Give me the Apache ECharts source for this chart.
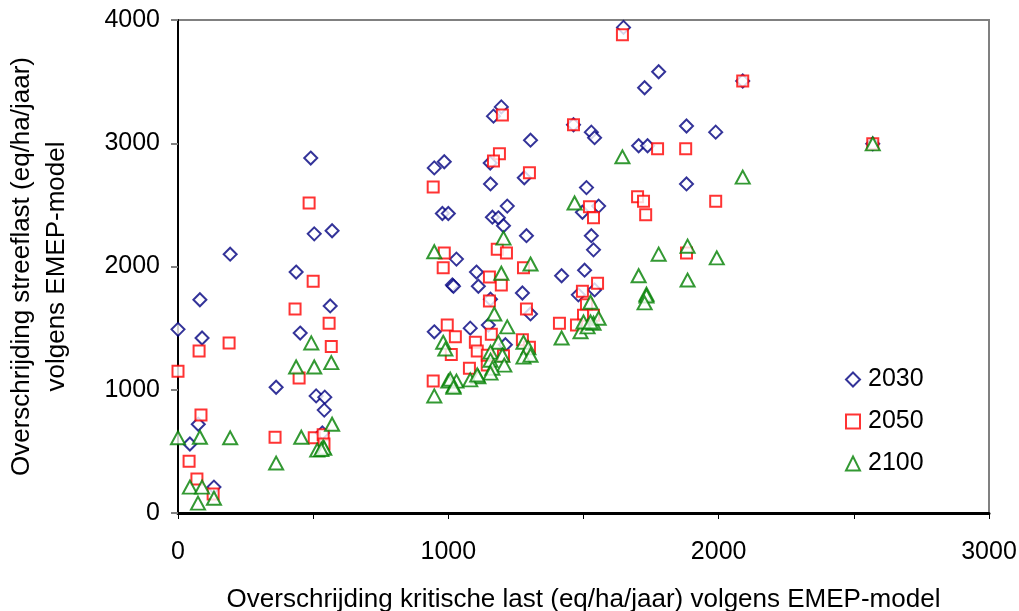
<!DOCTYPE html>
<html>
<head>
<meta charset="utf-8">
<script src="https://cdn.jsdelivr.net/npm/echarts@6/dist/echarts.min.js"></script>
<style>
html,body{margin:0;padding:0;background:#fff;}
#chart{width:1019px;height:611px;}
</style>
</head>
<body>
<div id="chart"></div>
<script>
var seriesNames = ['2030', '2050', '2100'];
var xTickLabels = ['0', '1000', '2000', '3000'];
var yTickLabels = ['0', '1000', '2000', '3000', '4000'];

var data2030 = [
 [0,1490],[44,560],[81,1730],[89,1420],[75,720],[133,210],[193,2100],[437,1955],
 [563,1680],[452,1460],[363,1020],[511,950],[543,940],[541,835],[534,650],[491,2880],
 [504,2265],[570,2290],[948,2800],[985,2850],[978,2430],[1000,2430],[1030,2060],[1015,1850],
 [948,1470],[1196,3295],[1167,3220],[1648,3940],[1778,3580],[1726,3450],[1463,3150],[1529,3090],
 [1541,3045],[1881,3140],[1989,3090],[1304,3025],[1704,2980],[1737,2980],[1155,2840],[1281,2720],
 [1156,2670],[1511,2640],[1881,2670],[1556,2490],[1496,2440],[1218,2490],[1163,2400],[1185,2395],
 [1204,2330],[1289,2250],[1529,2250],[1537,2135],[1104,1955],[1019,1840],[1111,1840],[1274,1785],
 [1419,1925],[1504,1970],[1541,1810],[1481,1770],[1156,1735],[1304,1615],[1081,1500],[1148,1525],
 [1211,1365],[2089,3505],[2570,2995]
];
var data2050 = [
 [0,1150],[78,1315],[189,1380],[85,795],[41,420],[70,275],[130,155],[500,1880],
 [433,1655],[559,1540],[567,1350],[448,1095],[359,615],[504,610],[537,635],[540,560],[485,2515],
 [944,2645],[944,1070],[985,2110],[981,1990],[996,1525],[1026,1430],[1011,1285],[1200,3230],
 [1644,3880],[1463,3150],[1774,2955],[1878,2955],[1189,2915],[1167,2855],[1300,2760],[1700,2565],
 [1722,2530],[1730,2420],[1989,2530],[1522,2485],[1537,2395],[1181,2140],[1215,2110],[1881,2110],
 [1278,1990],[1152,1915],[1196,1850],[1552,1865],[1496,1800],[1152,1720],[1289,1655],[1159,1450],
 [1100,1385],[1107,1315],[1078,1175],[1144,1200],[1144,1280],[1204,1275],[1274,1405],[1300,1345],
 [1411,1540],[1511,1690],[1500,1605],[1537,1605],[1474,1525],[2089,3505],[2570,2995]
];
var data2100 = [
 [0,610],[81,615],[193,610],[44,210],[89,210],[74,80],[133,120],[363,405],
 [456,615],[493,1380],[437,1185],[504,1185],[567,1220],[570,720],[515,510],[537,535],
 [541,525],[530,515],[948,2120],[981,1385],[989,1330],[1000,1070],[1019,1030],[1030,1070],
 [948,950],[1644,2890],[1467,2515],[1204,2230],[1778,2100],[1885,2165],[1993,2070],[1304,2020],
 [1196,1945],[1704,1925],[1885,1890],[1733,1775],[1733,1760],[1726,1705],[1170,1615],[1218,1510],
 [1185,1385],[1156,1305],[1156,1240],[1200,1280],[1207,1200],[1163,1175],[1156,1135],[1111,1105],
 [1081,1080],[1007,1085],[1019,1020],[1107,1120],[1278,1385],[1296,1340],[1278,1265],[1304,1280],
 [1419,1420],[1526,1710],[1489,1470],[1515,1510],[1537,1540],[1556,1580],[1500,1550],[1526,1550],
 [2089,2725],[2570,2995]
];

var FONT = '"Liberation Sans", Arial, sans-serif';
var chart = echarts.init(document.getElementById('chart'), null, {renderer: 'canvas'});
chart.setOption({
  animation: false,
  backgroundColor: '#ffffff',
  textStyle: {fontFamily: FONT},
  grid: {left: 178, top: 20, right: 30, bottom: 98, outerBoundsMode: 'none', containLabel: false,
         show: true, borderColor: '#808080', borderWidth: 2, backgroundColor: '#fff'},
  legend: {
    orient: 'vertical',
    left: 840, top: 362,
    itemGap: 17,
    itemWidth: 14, itemHeight: 14,
    textStyle: {fontFamily: FONT, fontSize: 25, color: '#000', padding: [0, 0, 0, 3]},
    data: seriesNames
  },
  xAxis: {
    type: 'value', min: 0, max: 3000, interval: 500,
    name: 'Overschrijding kritische last (eq/ha/jaar) volgens EMEP-model',
    nameLocation: 'middle', nameGap: 74,
    nameTextStyle: {fontFamily: FONT, fontSize: 26, color: '#000'},
    axisLine: {show: true, onZero: false, lineStyle: {color: '#000', width: 3}},
    axisTick: {show: true, length: 6, lineStyle: {color: '#000', width: 1}},
    axisLabel: {
      fontFamily: FONT, fontSize: 25, color: '#000', margin: 27,
      formatter: function (v) { return v % 1000 === 0 ? xTickLabels[v / 1000] : ''; }
    },
    splitLine: {show: false}
  },
  yAxis: {
    type: 'value', min: 0, max: 4000, interval: 1000,
    name: 'Overschrijding streeflast (eq/ha/jaar)\nvolgens EMEP-model',
    nameLocation: 'middle', nameGap: 104, nameRotate: 90,
    nameTextStyle: {fontFamily: FONT, fontSize: 26, color: '#000', lineHeight: 35},
    axisLine: {show: true, onZero: false, lineStyle: {color: '#000', width: 2}},
    axisTick: {show: true, length: 7, lineStyle: {color: '#808080', width: 2}},
    axisLabel: {
      fontFamily: FONT, fontSize: 25, color: '#000', margin: 18,
      formatter: function (v) { return yTickLabels[v / 1000]; }
    },
    splitLine: {show: false}
  },
  series: [
    {name: seriesNames[0], type: 'scatter', data: data2030, symbol: 'emptyDiamond', symbolSize: 13,
     itemStyle: {color: '#000080', borderColor: '#000080', borderWidth: 2}},
    {name: seriesNames[1], type: 'scatter', data: data2050, symbol: 'emptyRect', symbolSize: 11,
     itemStyle: {color: '#ff0000', borderColor: '#ff0000', borderWidth: 2}},
    {name: seriesNames[2], type: 'scatter', data: data2100, symbol: 'emptyTriangle', symbolSize: [14, 13],
     itemStyle: {color: '#008000', borderColor: '#008000', borderWidth: 2}}
  ]
});
</script>
</body>
</html>
